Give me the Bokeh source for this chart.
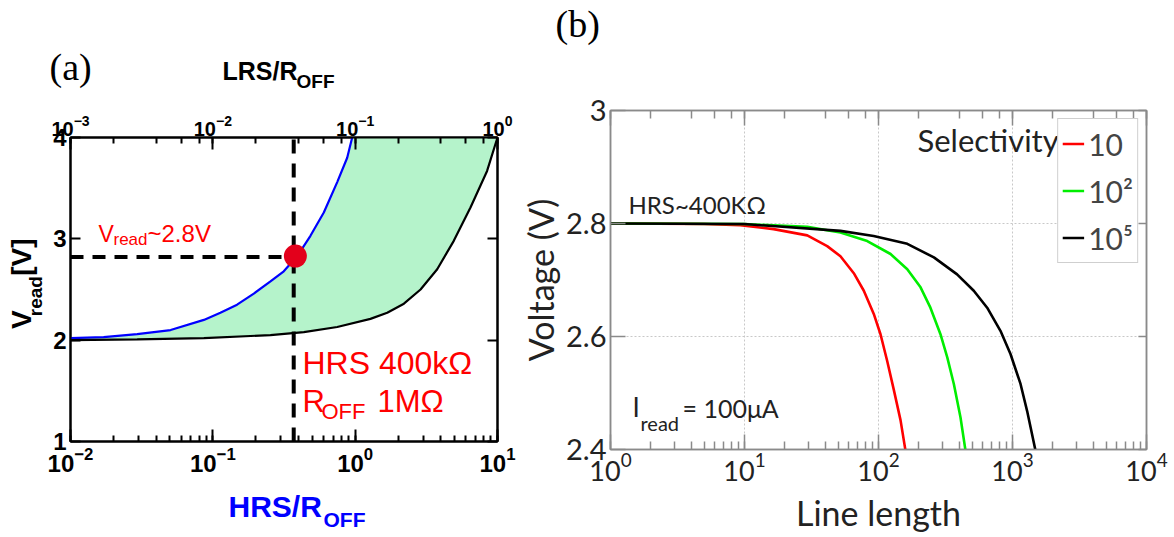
import math
from bokeh.plotting import figure
from bokeh.models import (Range1d, LogAxis, LinearAxis, Label, Legend, LegendItem,
                          FixedTicker, LogScale, CustomJSTickFormatter, PrintfTickFormatter)
from bokeh.layouts import row, column
from bokeh.embed import file_html
from bokeh.resources import INLINE

# ---------------- data: panel (a) ----------------
blue_hrs = [0.01, 0.0171, 0.0294, 0.0505, 0.0865, 0.113, 0.148, 0.194, 0.254, 0.315,
            0.392, 0.485, 0.602, 0.748, 0.879, 0.953]
blue_v = [2.02, 2.03, 2.06, 2.10, 2.20, 2.27, 2.35, 2.46, 2.58, 2.68,
          2.83, 3.03, 3.26, 3.56, 3.80, 4.00]
black_hrs = [0.01, 0.0294, 0.0865, 0.254, 0.436, 0.748, 1.28, 1.68, 2.20, 2.88,
             3.77, 4.93, 6.46, 8.45, 10.0]
black_v = [2.00, 2.007, 2.02, 2.05, 2.08, 2.13, 2.21, 2.27, 2.36, 2.50,
           2.70, 2.98, 3.31, 3.67, 4.00]
mark_hrs = 0.37
mark_v = 2.82
dot_hrs = [0.38]
dot_v = [2.83]
a_yticks = [1, 2, 3, 4]

# ---------------- data: panel (b) ----------------
len_red = [1, 5, 9.3, 16.5, 29.4, 41.4, 52, 65.4, 77.7, 92.2, 103.5, 116, 130, 146, 159]
v_red = [2.800, 2.799, 2.797, 2.790, 2.779, 2.760, 2.742, 2.712, 2.681, 2.640,
         2.604, 2.557, 2.506, 2.452, 2.398]
len_green = [1, 10, 29.4, 52, 82.4, 123, 164, 206, 244, 290, 326, 365, 409, 446]
v_green = [2.800, 2.799, 2.794, 2.784, 2.769, 2.746, 2.719, 2.687, 2.651, 2.604,
           2.563, 2.516, 2.457, 2.398]
len_black = [1, 10, 52, 92, 164, 259, 386, 514, 647, 813, 966, 1148, 1286, 1485]
v_black = [2.800, 2.799, 2.787, 2.778, 2.764, 2.740, 2.710, 2.681, 2.651, 2.610,
           2.569, 2.516, 2.468, 2.398]
sel_labels = ["10", "10\u00b2", "10\u2075"]
b_yticks = [2.4, 2.6, 2.8, 3.0]

HEL = "Liberation Sans"
CAL = "Lato"
SER = "Liberation Serif"
RED = "#ff0000"
INK = "#222222"
SHIFT = 0.39   # label anchor offset (em) between requested point and drawn baseline

SPLIT = 517    # page x where panel (b) starts
TOP = 88       # height of the top text strip of panel (b)


def style_axis(ax, font, size, bold, color, tick_color, major_in, minor_in, lw, standoff):
    ax.axis_line_color = tick_color
    ax.axis_line_width = lw
    ax.major_tick_line_color = tick_color
    ax.major_tick_line_width = lw
    ax.minor_tick_line_color = tick_color
    ax.minor_tick_line_width = lw
    ax.major_tick_in = major_in
    ax.major_tick_out = 0
    ax.minor_tick_in = minor_in
    ax.minor_tick_out = 0
    ax.major_label_text_font = font
    ax.major_label_text_font_size = size
    ax.major_label_text_font_style = "bold" if bold else "normal"
    ax.major_label_text_color = color
    ax.major_label_standoff = standoff


def lab(p, bx, by, text, size, font, color="black", bold=False, rot=False, align="left",
        origin=None):
    """bx, by: baseline point in page pixels (y down)."""
    if rot:
        ax_, ay_ = bx - SHIFT * size, by
    else:
        ax_, ay_ = bx, by - SHIFT * size
    if origin is None:
        units, x, y = "data", ax_, ay_
    else:
        units, x, y = "screen", ax_ - origin[0], origin[1] - ay_
    p.add_layout(Label(x=x, y=y, x_units=units, y_units=units, text=text,
                       text_font=font, text_font_size=f"{size}px",
                       text_font_style="bold" if bold else "normal",
                       text_color=color, text_align=align, text_baseline="alphabetic",
                       angle=(math.pi / 2 if rot else 0.0)))


def strip(x0, x1, y0, y1):
    # a blank canvas whose data units are page pixels (y downwards)
    f = figure(output_backend="svg", toolbar_location=None, width=x1 - x0, height=y1 - y0,
               x_range=Range1d(x0, x1), y_range=Range1d(y1, y0), min_border=0,
               x_axis_location=None, y_axis_location=None)
    f.xgrid.visible = False
    f.ygrid.visible = False
    f.outline_line_color = None
    return f


def blank():
    return CustomJSTickFormatter(code="return ''")


# ================= panel (a) =================
p1 = figure(output_backend="svg", toolbar_location=None, x_axis_type="log",
            x_range=Range1d(0.01, 10), y_range=Range1d(1, 4),
            frame_width=427, frame_height=304,
            min_border_left=24, min_border_right=SPLIT - 497, min_border_top=39,
            min_border_bottom=46)
p1.extra_x_ranges = {"lrs": Range1d(0.001, 1)}
p1.extra_x_scales = {"lrs": LogScale()}
top1 = LogAxis(x_range_name="lrs")
p1.add_layout(top1, "above")
right1 = LinearAxis(formatter=blank())
p1.add_layout(right1, "right")
p1.xgrid.visible = False
p1.ygrid.visible = False
p1.outline_line_color = "black"
p1.outline_line_width = 2
bottom1 = p1.below[0]
left1 = p1.left[0]
for ax in (left1, right1):
    ax.ticker = FixedTicker(ticks=a_yticks, minor_ticks=[])
style_axis(bottom1, HEL, "24px", True, "black", "black", 12, 6, 2, 5)
style_axis(top1, HEL, "20px", True, "black", "black", 12, 6, 2, 2)
style_axis(left1, HEL, "24px", True, "black", "black", 10, 0, 2, 4)
style_axis(right1, HEL, "1px", False, "black", "black", 10, 0, 2, 0)

# shaded window between the two curves
p1.patch(blue_hrs + black_hrs[::-1], blue_v + black_v[::-1],
         fill_color="#b5f3cb", line_color=None)
p1.line([0.01, mark_hrs], [mark_v, mark_v], color="black", line_width=4, line_dash="13 9")
p1.line([mark_hrs, mark_hrs], [1, 4], color="black", line_width=4, line_dash="14 10")
p1.line(blue_hrs, blue_v, color="#0000ff", line_width=2.2)
p1.line(black_hrs, black_v, color="black", line_width=2.2)
p1.scatter(dot_hrs, dot_v, size=23, color="#e3001b", line_color=None)

o1 = (70, 441)
lab(p1, 98, 242, "V", 23, HEL, color=RED, origin=o1)
lab(p1, 113, 246, "read", 17, HEL, color=RED, origin=o1)
lab(p1, 147, 242, "~2.8V", 24, HEL, color=RED, origin=o1)
lab(p1, 302, 375, "HRS 400k\u03a9", 32, HEL, color=RED, origin=o1)
lab(p1, 302, 413, "R", 31, HEL, color=RED, origin=o1)
lab(p1, 321, 420, "OFF", 22, HEL, color=RED, origin=o1)
lab(p1, 377, 413, "1M\u03a9", 31, HEL, color=RED, origin=o1)

t1 = strip(0, SPLIT, 0, 98)
lab(t1, 49, 81, "(a)", 38, SER)
lab(t1, 222, 80, "LRS/R", 25, HEL, bold=True)
lab(t1, 296, 88, "OFF", 19, HEL, bold=True)

l1 = strip(0, 46, 98, 487)
lab(l1, 32, 331, "V", 28, HEL, bold=True, rot=True, align="center")
lab(l1, 42, 301, "read", 19, HEL, bold=True, rot=True, align="center")
lab(l1, 32, 251, "[V]", 28, HEL, bold=True, rot=True, align="center")

b1 = strip(0, SPLIT, 487, 537)
lab(b1, 228, 518, "HRS/R", 30, HEL, color="#0000ff", bold=True)
lab(b1, 323, 527, "OFF", 21, HEL, color="#0000ff", bold=True)

# ================= panel (b) =================
GRAY = "#8a8a8a"
p2 = figure(output_backend="svg", toolbar_location=None, x_axis_type="log",
            x_range=Range1d(1, 1e4), y_range=Range1d(2.4, 3.0),
            frame_width=536, frame_height=339,
            min_border_left=610 - SPLIT, min_border_right=28, min_border_top=110 - TOP,
            min_border_bottom=88)
top2 = LogAxis(formatter=blank())
p2.add_layout(top2, "above")
right2 = LinearAxis(formatter=blank())
p2.add_layout(right2, "right")
bottom2 = p2.below[0]
left2 = p2.left[0]
for ax in (left2, right2):
    ax.ticker = FixedTicker(ticks=b_yticks, minor_ticks=[])
left2.formatter = PrintfTickFormatter(format="%g")
style_axis(bottom2, CAL, "27px", False, INK, GRAY, 15, 8, 1.5, 3)
style_axis(top2, CAL, "1px", False, INK, GRAY, 15, 8, 1.5, 0)
style_axis(left2, CAL, "29px", False, INK, GRAY, 15, 0, 1.5, 4)
style_axis(right2, CAL, "1px", False, INK, GRAY, 8, 0, 1.5, 0)
for ax, txt, so in ((left2, "Voltage (V)", 2), (bottom2, "Line length", 8)):
    ax.axis_label = txt
    ax.axis_label_text_font = CAL
    ax.axis_label_text_font_size = "34px"
    ax.axis_label_text_font_style = "normal"
    ax.axis_label_text_color = INK
    ax.axis_label_standoff = so
p2.outline_line_color = GRAY
p2.outline_line_width = 1.5
for g in (p2.xgrid, p2.ygrid):
    g.grid_line_color = "#c8c8c8"
    g.grid_line_dash = "2 2"
    g.grid_line_width = 1

r_red = p2.line(len_red, v_red, color="#ff0000", line_width=2.6)
r_green = p2.line(len_green, v_green, color="#00ee00", line_width=2.6)
r_black = p2.line(len_black, v_black, color="black", line_width=2.6)

legend = Legend(items=[LegendItem(label=sel_labels[0], renderers=[r_red]),
                       LegendItem(label=sel_labels[1], renderers=[r_green]),
                       LegendItem(label=sel_labels[2], renderers=[r_black])],
                location="top_right", margin=8, padding=4, spacing=6,
                glyph_width=22, glyph_height=41, label_height=41, label_standoff=4,
                label_text_font=CAL, label_text_font_size="30px",
                border_line_color="#a0a0a0", border_line_width=1,
                background_fill_color="white", background_fill_alpha=1)
p2.add_layout(legend)

o2 = (610, 449)
lab(p2, 917, 152, "Selectivity", 31, CAL, color=INK, origin=o2)
lab(p2, 628, 213, "HRS~400K\u03a9", 24, CAL, color=INK, origin=o2)
lab(p2, 632, 417, "I", 26, CAL, color=INK, origin=o2)
lab(p2, 640, 430, "read", 20, CAL, color=INK, origin=o2)
lab(p2, 682, 417, "= 100\u03bcA", 25, CAL, color=INK, origin=o2)

t2 = strip(SPLIT, 1174, 0, TOP)
lab(t2, 555, 38, "(b)", 38, SER)

left_half = column(t1, row(l1, p1), b1)
right_half = column(t2, row(p2))
layout = row(left_half, right_half)
open("out.html", "w").write(file_html(layout, INLINE))
